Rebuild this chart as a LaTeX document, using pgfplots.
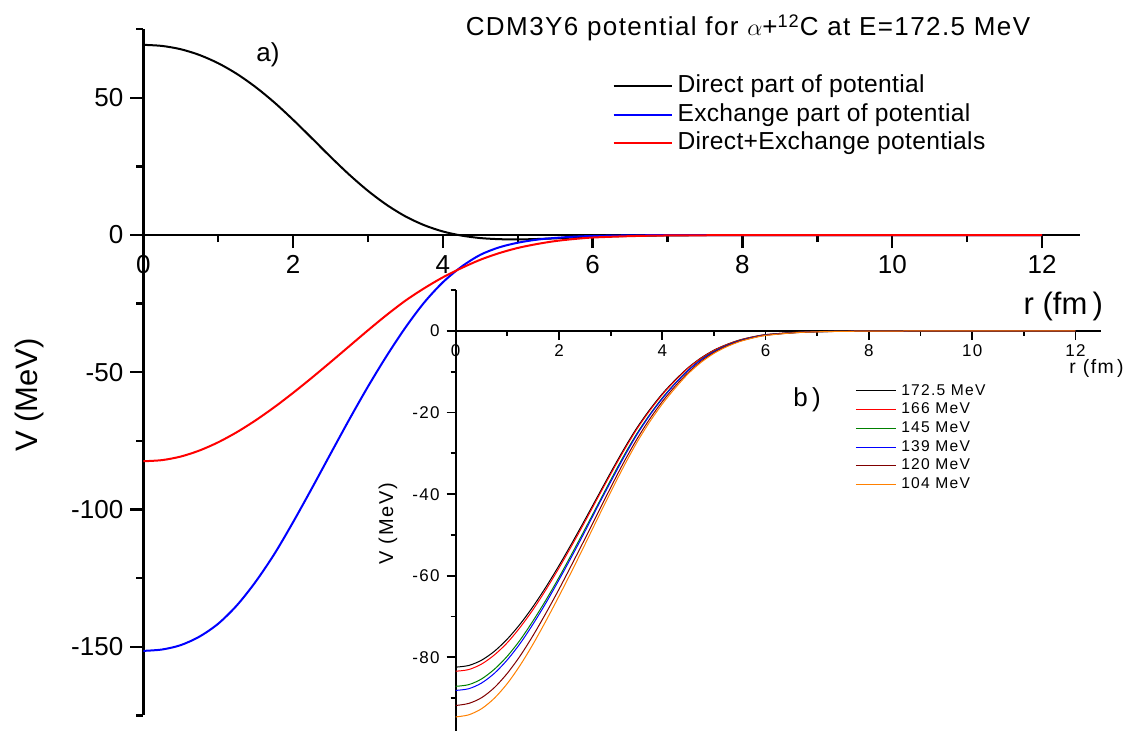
\documentclass[border=0pt]{standalone}
\usepackage{fontspec}
\setmainfont{Liberation Sans}
\newfontfamily\lsfont[LetterSpace=8]{Liberation Sans}
\newfontfamily\lsleg[LetterSpace=1.3]{Liberation Sans}
\newfontfamily\lstitle[LetterSpace=5.5]{Liberation Sans}
\usepackage{pgfplots}
\pgfplotsset{compat=1.18}
\definecolor{dkred}{RGB}{128,0,0}
\definecolor{orng}{RGB}{255,128,0}
\definecolor{grn}{RGB}{0,128,0}

\begin{document}
\begin{tikzpicture}
\path[use as bounding box] (0,0) rectangle (563pt,365.5pt);

% main plot a)
\begin{axis}[
  at={(71.65pt,7.8pt)}, anchor=south west,
  scale only axis, width=468.1pt, height=343.1pt,
  xmin=0, xmax=12.5, ymin=-175, ymax=75,
  axis x line=middle, axis y line=left,
  axis line style={line width=1.35pt,-},
  hide obscured x ticks=false, hide obscured y ticks=false,
  xtick={0,2,...,12}, minor xtick={1,3,...,11},
  ytick={-150,-100,-50,0,50}, minor ytick={-175,-125,-75,-25,25,75},
  tick align=outside,
  major tick length=6.5pt, minor tick length=3.5pt,
  tick style={line width=1.2pt,black},
  ticklabel style={font=\fontsize{13}{15}\selectfont},
  /pgf/number format/assume math mode=true,
  clip=false,
  legend style={at={(axis cs:6.26,58.5)}, anchor=north west, draw=none, fill=none,
    inner sep=0pt, font=\lsleg\fontsize{12.3}{14}\selectfont, row sep=2.75pt, column sep=2.5pt,
    nodes={inner sep=0pt, text height=9pt, text depth=2.5pt}},
  legend cell align=left,
  legend image code/.code={\draw[#1] (0pt,0pt) -- (29pt,0pt);},
  every axis plot/.append style={line width=1pt, smooth},
]
\addplot[black] coordinates {
(0,69.3)(0.25,68.9)(0.5,67.7)(0.75,65.6)(1,62.6)(1.25,58.7)(1.5,53.9)(1.75,48.3)(2,42.0)(2.25,35.3)(2.5,28.5)(2.75,22.0)(3,16.1)(3.25,11.0)(3.5,6.8)(3.75,3.6)(4,1.3)(4.25,-0.2)(4.5,-1.1)(4.75,-1.5)(5,-1.6)(5.25,-1.45)(5.5,-1.2)(5.75,-0.9)(6,-0.65)(6.25,-0.45)(6.5,-0.3)(7,-0.12)(7.5,-0.05)(8,-0.02)(9,0)(10,0)(11,0)(12,0)
};
\addlegendentry{Direct part of potential}
\addplot[blue] coordinates {
(0,-151.5)(0.25,-151.0)(0.5,-149.4)(0.75,-146.3)(1,-141.6)(1.25,-134.9)(1.5,-126.3)(1.75,-116.2)(2,-104.6)(2.25,-92.3)(2.5,-79.7)(2.75,-67.2)(3,-55.2)(3.25,-44.0)(3.5,-33.7)(3.75,-24.6)(4,-17.2)(4.25,-11.5)(4.5,-7.2)(4.75,-4.5)(5,-2.8)(5.25,-1.7)(5.5,-1.05)(5.75,-0.6)(6,-0.35)(6.5,-0.12)(7,-0.04)(8,0)(9,0)(10,0)(11,0)(12,0)
};
\addlegendentry{Exchange part of potential}
\addplot[red] coordinates {
(0,-82.4)(0.25,-82.0)(0.5,-80.7)(0.75,-78.5)(1,-75.5)(1.25,-71.8)(1.5,-67.5)(1.75,-62.7)(2,-57.5)(2.25,-52.0)(2.5,-46.3)(2.75,-40.5)(3,-34.7)(3.25,-29.1)(3.5,-23.9)(3.75,-19.4)(4,-15.4)(4.25,-12.0)(4.5,-9.0)(4.75,-6.6)(5,-4.7)(5.25,-3.3)(5.5,-2.2)(5.75,-1.45)(6,-0.9)(6.5,-0.4)(7,-0.15)(8,-0.03)(9,0)(10,0)(11,0)(12,0)
};
\addlegendentry{Direct+Exchange potentials}
\end{axis}

% inset b)
\begin{axis}[
  at={(227.85pt,0.1pt)}, anchor=south west,
  scale only axis, width=322.8pt, height=220.3pt,
  xmin=0, xmax=12.5, ymin=-98, ymax=10,
  axis x line=middle, axis y line=left,
  axis line style={line width=1pt,-},
  hide obscured x ticks=false, hide obscured y ticks=false,
  xtick={0,2,...,12}, minor xtick={1,3,...,11},
  ytick={-80,-60,-40,-20,0}, minor ytick={-90,-70,-50,-30,-10,10},
  tick align=outside,
  major tick length=4.5pt, minor tick length=2.5pt,
  tick style={line width=0.9pt,black},
  ticklabel style={font=\lsfont\fontsize{8.5}{10}\selectfont},
  xticklabel style={yshift=1pt},
  /pgf/number format/assume math mode=true,
  clip=false,
  legend style={at={(axis cs:7.73,-12.7)}, anchor=north west, draw=none, fill=none,
    inner sep=0pt, font=\lsfont\fontsize{7.8}{9}\selectfont, row sep=1.6pt, column sep=2.5pt,
    nodes={inner sep=0pt, text height=6pt, text depth=1.75pt}},
  legend cell align=left,
  legend image code/.code={\draw[#1] (0pt,0pt) -- (20pt,0pt);},
  every axis plot/.append style={line width=0.5pt, smooth},
]
\addplot[black] coordinates {
(0,-82.4)(0.25,-82.0)(0.5,-80.7)(0.75,-78.5)(1,-75.5)(1.25,-71.8)(1.5,-67.5)(1.75,-62.7)(2,-57.5)(2.25,-52.0)(2.5,-46.3)(2.75,-40.5)(3,-34.7)(3.25,-29.1)(3.5,-23.9)(3.75,-19.4)(4,-15.4)(4.25,-12.0)(4.5,-9.0)(4.75,-6.6)(5,-4.7)(5.25,-3.3)(5.5,-2.2)(5.75,-1.45)(6,-0.9)(6.5,-0.4)(7,-0.15)(8,-0.03)(9,0)(10,0)(11,0)(12,0)
};
\addlegendentry{172.5 MeV}
\addplot[red] coordinates {
(0,-83.4)(0.25,-83.0)(0.5,-81.65)(0.75,-79.4)(1,-76.4)(1.25,-72.6)(1.5,-68.25)(1.75,-63.35)(2,-58.1)(2.25,-52.55)(2.5,-46.8)(2.75,-40.9)(3,-35.1)(3.25,-29.45)(3.5,-24.2)(3.75,-19.65)(4,-15.6)(4.25,-12.15)(4.5,-9.1)(4.75,-6.7)(5,-4.76)(5.25,-3.34)(5.5,-2.23)(5.75,-1.47)(6,-0.91)(6.5,-0.4)(7,-0.15)(8,-0.03)(9,0)(10,0)(11,0)(12,0)
};
\addlegendentry{166 MeV}
\addplot[grn] coordinates {
(0,-87.1)(0.25,-86.7)(0.5,-85.3)(0.75,-82.9)(1,-79.7)(1.25,-75.7)(1.5,-71.0)(1.75,-65.9)(2,-60.4)(2.25,-54.6)(2.5,-48.65)(2.75,-42.6)(3,-36.55)(3.25,-30.7)(3.5,-25.3)(3.75,-20.6)(4,-16.4)(4.25,-12.8)(4.5,-9.6)(4.75,-7.0)(5,-5.0)(5.25,-3.5)(5.5,-2.35)(5.75,-1.56)(6,-0.98)(6.5,-0.44)(7,-0.17)(8,-0.03)(9,0)(10,0)(11,0)(12,0)
};
\addlegendentry{145 MeV}
\addplot[blue] coordinates {
(0,-88.1)(0.25,-87.7)(0.5,-86.3)(0.75,-83.9)(1,-80.6)(1.25,-76.55)(1.5,-71.8)(1.75,-66.6)(2,-61.0)(2.25,-55.2)(2.5,-49.2)(2.75,-43.0)(3,-37.0)(3.25,-31.1)(3.5,-25.6)(3.75,-20.8)(4,-16.6)(4.25,-12.9)(4.5,-9.7)(4.75,-7.1)(5,-5.1)(5.25,-3.56)(5.5,-2.4)(5.75,-1.58)(6,-0.99)(6.5,-0.45)(7,-0.17)(8,-0.03)(9,0)(10,0)(11,0)(12,0)
};
\addlegendentry{139 MeV}
\addplot[dkred] coordinates {
(0,-91.8)(0.25,-91.3)(0.5,-89.9)(0.75,-87.4)(1,-83.9)(1.25,-79.6)(1.5,-74.6)(1.75,-69.1)(2,-63.3)(2.25,-57.2)(2.5,-51.0)(2.75,-44.7)(3,-38.4)(3.25,-32.3)(3.5,-26.7)(3.75,-21.7)(4,-17.3)(4.25,-13.5)(4.5,-10.2)(4.75,-7.45)(5,-5.3)(5.25,-3.7)(5.5,-2.5)(5.75,-1.67)(6,-1.05)(6.5,-0.48)(7,-0.19)(8,-0.03)(9,0)(10,0)(11,0)(12,0)
};
\addlegendentry{120 MeV}
\addplot[orng] coordinates {
(0,-94.6)(0.25,-94.1)(0.5,-92.6)(0.75,-90.0)(1,-86.4)(1.25,-81.9)(1.5,-76.7)(1.75,-71.0)(2,-65.0)(2.25,-58.8)(2.5,-52.4)(2.75,-45.9)(3,-39.5)(3.25,-33.3)(3.5,-27.5)(3.75,-22.4)(4,-17.9)(4.25,-14.0)(4.5,-10.5)(4.75,-7.7)(5,-5.5)(5.25,-3.85)(5.5,-2.6)(5.75,-1.73)(6,-1.1)(6.5,-0.5)(7,-0.2)(8,-0.03)(9,0)(10,0)(11,0)(12,0)
};
\addlegendentry{104 MeV}
\end{axis}

% texts
\node[font=\lstitle\fontsize{13}{15}\selectfont] at (374pt,351.5pt)
  {CDM3Y6 potential for $\alpha$+\textsuperscript{12}C at E=172.5 MeV};
\node[anchor=base west, inner sep=0pt, font=\fontsize{13}{15}\selectfont] at (128pt,334.65pt) {a)};
\node[anchor=base west, inner sep=0pt, font=\fontsize{13}{15}\selectfont] at (396.5pt,162.15pt) {b\,)};
\node[rotate=90, font=\fontsize{15.5}{18}\selectfont] at (14.5pt,168pt) {V (MeV)};
\node[anchor=base west, inner sep=0pt, font=\fontsize{15.5}{18}\selectfont] at (511.65pt,208pt) {r (fm\,)};
\node[rotate=90, font=\lsfont\fontsize{10}{12}\selectfont] at (194pt,103.5pt) {V (MeV)};
\node[inner sep=0pt, font=\lsfont\fontsize{9.7}{12}\selectfont] at (548.25pt,181.5pt) {r (fm\,)};
\end{tikzpicture}
\end{document}
